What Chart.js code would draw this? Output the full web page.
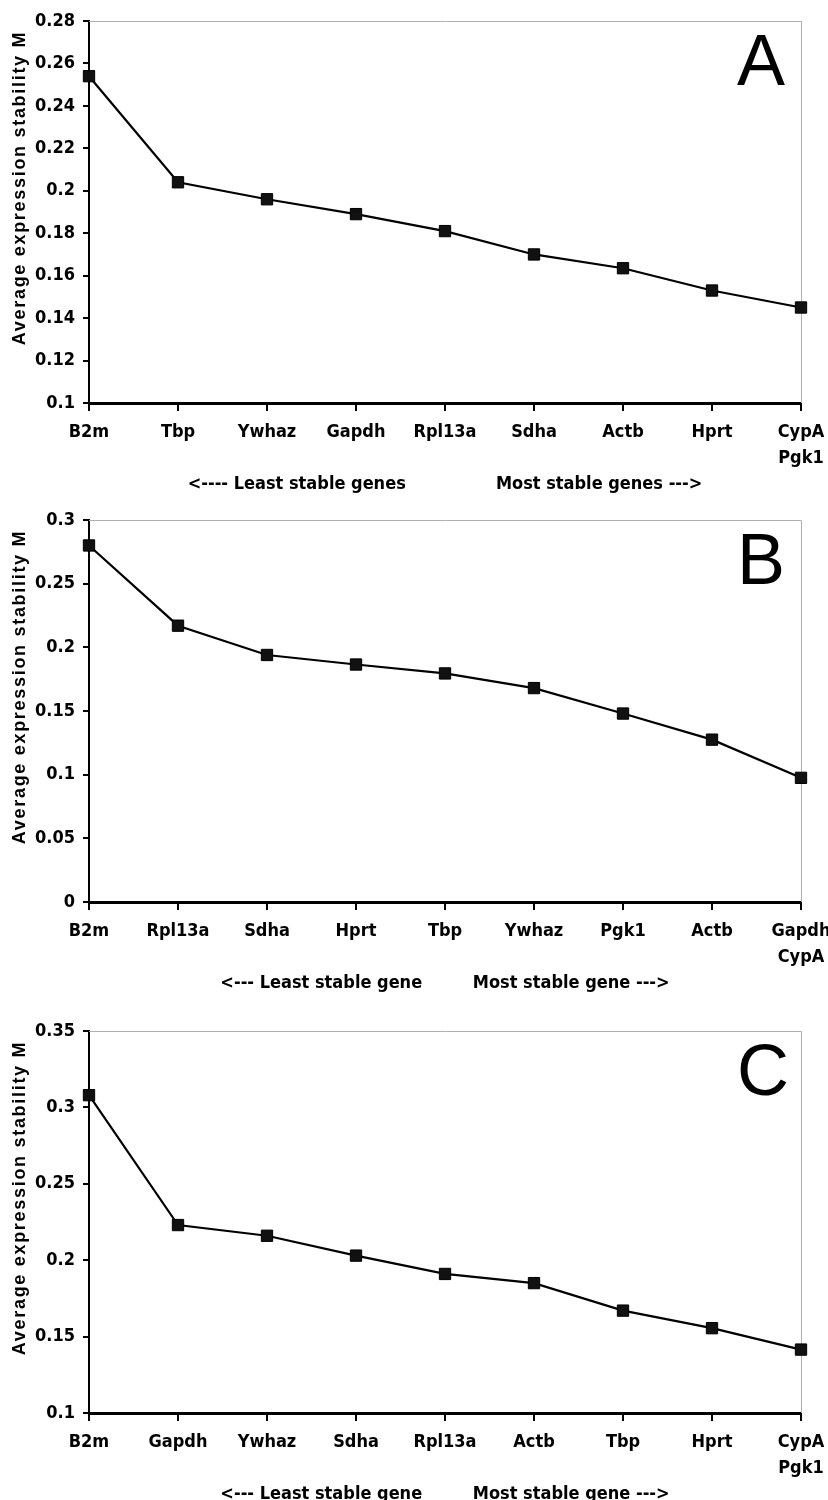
<!DOCTYPE html>
<html lang="en">
<head>
    <meta charset="utf-8" />
    <title>Average expression stability M</title>
    <script src="https://cdn.jsdelivr.net/npm/chart.js@4.4.1/dist/chart.umd.min.js"></script>
    <style>
        html, body { margin: 0; padding: 0; background: #fff; overflow: hidden; }
        .panel { position: absolute; left: 0; width: 828px; height: 500px; }
        #panelA { top: 0; }
        #panelB { top: 499px; }
        #panelC { top: 1010px; }
    </style>
</head>
<body>
    <div class="panel" id="panelA"><canvas id="chartA"></canvas></div>
    <div class="panel" id="panelB"><canvas id="chartB"></canvas></div>
    <div class="panel" id="panelC"><canvas id="chartC"></canvas></div>

    <script>
        // gene order per panel (least -> most stable)
        const genesA = ['B2m', 'Tbp', 'Ywhaz', 'Gapdh', 'Rpl13a', 'Sdha', 'Actb', 'Hprt', ['CypA', 'Pgk1']];
        const genesB = ['B2m', 'Rpl13a', 'Sdha', 'Hprt', 'Tbp', 'Ywhaz', 'Pgk1', 'Actb', ['Gapdh', 'CypA']];
        const genesC = ['B2m', 'Gapdh', 'Ywhaz', 'Sdha', 'Rpl13a', 'Actb', 'Tbp', 'Hprt', ['CypA', 'Pgk1']];

        // average expression stability M
        const valuesA = [0.254, 0.204, 0.196, 0.189, 0.181, 0.170, 0.1635, 0.153, 0.145];
        const valuesB = [0.280, 0.217, 0.194, 0.1865, 0.1795, 0.168, 0.148, 0.1275, 0.0975];
        const valuesC = [0.308, 0.223, 0.216, 0.203, 0.191, 0.185, 0.167, 0.1555, 0.1415];

        // y tick labels
        const yTicksA = [0.1, 0.12, 0.14, 0.16, 0.18, 0.2, 0.22, 0.24, 0.26, 0.28];
        const yTicksB = [0, 0.05, 0.1, 0.15, 0.2, 0.25, 0.3];
        const yTicksC = [0.1, 0.15, 0.2, 0.25, 0.3, 0.35];

        const xTitleA = ['<---- Least stable genes', 'Most stable genes --->'];
        const xTitleB = ['<--- Least stable gene', 'Most stable gene --->'];
        const xTitleC = ['<--- Least stable gene', 'Most stable gene --->'];
        const yTitle = 'Average expression stability M';

        const narrow = "'Liberation Sans Narrow', 'Arial Narrow', 'DejaVu Sans Condensed', sans-serif";
        const wide = "'Liberation Sans', Arial, sans-serif";

        // grey top/right frame, y title and the big panel letter
        const framePlugin = {
            id: 'frame',
            beforeDatasetsDraw(chart) {
                const { ctx, chartArea: a } = chart;
                ctx.save();
                ctx.strokeStyle = '#b0b0b0';
                ctx.lineWidth = 1;
                ctx.beginPath();
                ctx.moveTo(a.left, a.top + 0.5);
                ctx.lineTo(a.right + 0.5, a.top + 0.5);
                ctx.lineTo(a.right + 0.5, a.bottom);
                ctx.stroke();
                ctx.restore();
            },
            afterDraw(chart, args, opts) {
                const { ctx, chartArea: a } = chart;
                ctx.save();
                ctx.fillStyle = '#000';
                ctx.font = '72px ' + wide;
                ctx.textBaseline = 'alphabetic';
                ctx.textAlign = 'left';
                ctx.fillText(opts.letter, a.right - 64, a.top + 64);

                // rotated axis title, a bit spaced out like the original
                ctx.translate(20, a.top + 167);
                ctx.rotate(-Math.PI / 2);
                ctx.font = 'bold 18px ' + wide;
                ctx.letterSpacing = '1.7px';
                ctx.textAlign = 'center';
                ctx.textBaseline = 'middle';
                ctx.fillText(yTitle, 0, 0);
                ctx.restore();
            }
        };

        function makePanel(canvasId, letter, genes, values, yTicks, xTitle, gap) {
            const yMin = yTicks[0];
            const yMax = yTicks[yTicks.length - 1];
            return new Chart(document.getElementById(canvasId), {
                type: 'line',
                data: {
                    labels: genes,
                    datasets: [{
                        data: values,
                        borderColor: '#000',
                        borderWidth: 2.2,
                        backgroundColor: '#111',
                        pointStyle: 'rect',
                        pointRadius: 8,
                        pointBorderWidth: 1,
                        pointBorderColor: '#000',
                        pointBackgroundColor: '#111',
                        tension: 0,
                        clip: false
                    }]
                },
                options: {
                    responsive: true,
                    maintainAspectRatio: false,
                    animation: false,
                    layout: { padding: { top: 21, right: 27, left: 0, bottom: 0 } },
                    plugins: {
                        legend: { display: false },
                        tooltip: { enabled: false },
                        frame: { letter: letter }
                    },
                    scales: {
                        x: {
                            type: 'category',
                            offset: false,
                            afterFit: s => {
                                s.height = 97;
                                s.paddingLeft = 0;
                                s.paddingRight = 0;
                            },
                            grid: {
                                drawOnChartArea: false,
                                drawTicks: true,
                                tickLength: 8,
                                color: '#000',
                                lineWidth: 2
                            },
                            border: { color: '#000', width: 3 },
                            ticks: {
                                color: '#000',
                                autoSkip: false,
                                maxRotation: 0,
                                padding: 8,
                                font: { family: narrow, size: 18, weight: 'bold', lineHeight: 1.45 }
                            },
                            title: {
                                display: true,
                                text: xTitle[0] + ' '.repeat(gap) + xTitle[1],
                                color: '#000',
                                padding: { top: 0, bottom: 5 },
                                font: { family: narrow, size: 18, weight: 'bold' }
                            }
                        },
                        y: {
                            min: yMin,
                            max: yMax,
                            afterFit: s => {
                                s.width = 89;
                                s.paddingTop = 0;
                                s.paddingBottom = 0;
                            },
                            afterBuildTicks: s => { s.ticks = yTicks.map(v => ({ value: v })); },
                            grid: {
                                drawOnChartArea: false,
                                drawTicks: true,
                                tickLength: 6,
                                color: '#000',
                                lineWidth: 2
                            },
                            border: { color: '#000', width: 2 },
                            ticks: {
                                color: '#000',
                                padding: 8,
                                font: { family: narrow, size: 18, weight: 'bold' },
                                callback: v => String(Math.round(v * 100) / 100)
                            },
                            title: { display: false }
                        }
                    }
                },
                plugins: [framePlugin]
            });
        }

        makePanel('chartA', 'A', genesA, valuesA, yTicksA, xTitleA, 16);
        makePanel('chartB', 'B', genesB, valuesB, yTicksB, xTitleB, 9);
        makePanel('chartC', 'C', genesC, valuesC, yTicksC, xTitleC, 9);
    </script>
</body>
</html>
